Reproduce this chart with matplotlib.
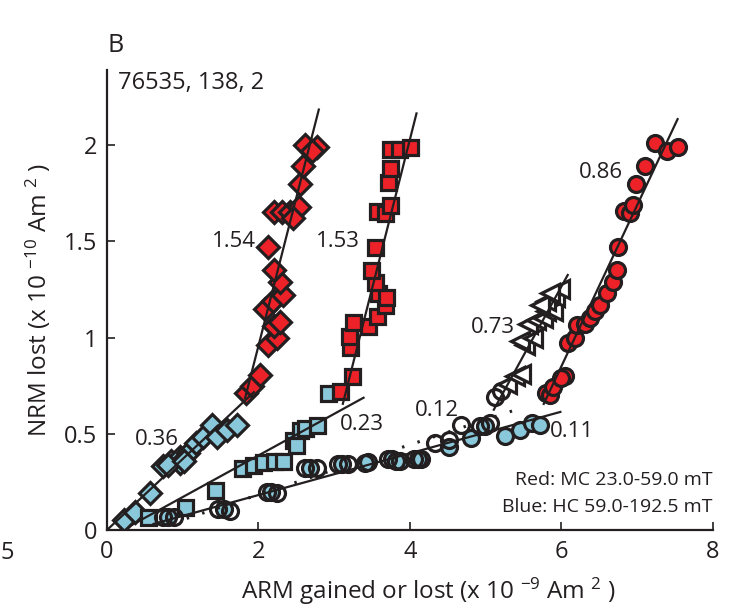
import matplotlib
matplotlib.use("Agg")
import matplotlib.pyplot as plt

plt.rcParams['font.family'] = ['Open Sans', 'DejaVu Sans']
plt.rcParams['mathtext.default'] = 'regular'

RED = '#ed2228'
BLUE = '#89c8da'
EDGE = '#231f20'

# ---------------- data ----------------
# Diamonds
dia_blue_x = [0.22, 0.37, 0.57, 0.74, 0.85, 0.96, 0.96, 1.07, 1.18, 1.27, 1.38, 1.45, 1.58, 1.71, 0.80, 1.02]
dia_blue_y = [0.05, 0.095, 0.19, 0.33, 0.36, 0.38, 0.35, 0.40, 0.45, 0.485, 0.545, 0.485, 0.52, 0.545, 0.34, 0.36]
dia_red_x = [1.84, 1.91, 2.02, 2.13, 2.24, 2.20, 2.28, 2.09, 2.19, 2.33, 2.28, 2.20, 2.13,
             2.20, 2.31, 2.42, 2.53, 2.46, 2.55, 2.59, 2.61, 2.77, 2.70]
dia_red_y = [0.71, 0.75, 0.805, 0.96, 1.00, 1.06, 1.08, 1.15, 1.19, 1.22, 1.29, 1.35, 1.47,
             1.65, 1.65, 1.65, 1.68, 1.62, 1.80, 1.89, 2.00, 1.99, 1.97]
# Squares
sq_blue_x = [0.545, 1.03, 1.43, 1.78, 1.93, 2.06, 2.20, 2.33, 2.46, 2.55, 2.61, 2.77, 2.50, 2.92]
sq_blue_y = [0.07, 0.12, 0.21, 0.32, 0.34, 0.355, 0.36, 0.36, 0.47, 0.52, 0.53, 0.545, 0.44, 0.71]
sq_red_x = [3.08, 3.23, 3.21, 3.19, 3.25, 3.45, 3.56, 3.67, 3.58, 3.69, 3.54, 3.49, 3.54,
            3.56, 3.67, 3.74, 3.71, 3.74, 3.74, 3.85, 4.00]
sq_red_y = [0.72, 0.80, 0.95, 1.01, 1.08, 1.06, 1.11, 1.17, 1.23, 1.21, 1.29, 1.35, 1.47,
            1.66, 1.645, 1.69, 1.81, 1.88, 1.98, 1.98, 1.99]
# Filled circles
cir_blue_x = [0.81, 1.54, 2.17, 2.68, 3.10, 3.45, 3.76, 3.87, 4.11, 4.51, 4.81, 4.99, 5.25, 5.45, 5.61, 5.72]
cir_blue_y = [0.07, 0.11, 0.20, 0.32, 0.345, 0.355, 0.37, 0.36, 0.37, 0.43, 0.476, 0.54, 0.49, 0.52, 0.554, 0.545]
cir_red_x = [5.80, 5.85, 5.89, 6.05, 6.00, 6.09, 6.18, 6.20, 6.31, 6.38, 6.44, 6.51, 6.60, 6.68, 6.73,
             6.75, 6.82, 6.90, 6.94, 6.99, 7.10, 7.23, 7.39, 7.54]
cir_red_y = [0.71, 0.70, 0.745, 0.80, 0.79, 0.97, 1.00, 1.065, 1.07, 1.10, 1.14, 1.17, 1.23, 1.29, 1.35,
             1.47, 1.66, 1.645, 1.69, 1.80, 1.89, 2.01, 1.97, 1.99]
# Open circles and open triangles
open_cir_x = [0.74, 0.88, 1.47, 1.62, 2.11, 2.24, 2.61, 2.77, 3.05, 3.18, 3.40, 3.71, 3.82, 4.05,
              4.15, 4.33, 4.51, 4.68, 4.92, 5.06, 5.12, 5.20]
open_cir_y = [0.07, 0.065, 0.11, 0.10, 0.20, 0.19, 0.32, 0.32, 0.345, 0.345, 0.35, 0.37, 0.36, 0.37,
              0.37, 0.45, 0.47, 0.545, 0.54, 0.554, 0.69, 0.72]
tri_x = [5.28, 5.39, 5.47, 5.52, 5.45, 5.63, 5.56, 5.67, 5.76, 5.80, 5.89, 5.80, 5.91, 5.98, 5.72, 5.85]
tri_y = [0.76, 0.80, 0.81, 0.96, 0.98, 1.00, 1.07, 1.09, 1.10, 1.14, 1.14, 1.19, 1.21, 1.25, 1.17, 1.23]

# fit lines
fit_dia_blue = ([0.0, 1.95], [0.0, 0.72])
fit_dia_red = ([1.82, 2.80], [0.68, 2.19])
fit_sq_blue = ([0.30, 3.40], [0.02, 0.69])
fit_sq_red = ([3.11, 4.09], [0.65, 2.17])
fit_cir_blue = ([0.60, 6.00], [0.03, 0.615])
fit_cir_red = ([5.76, 7.54], [0.65, 2.14])
fit_open = ([0.85, 5.40], [0.034, 0.625])
fit_tri = ([5.10, 6.09], [0.62, 1.33])

slope_labels = ['0.36', '1.54', '0.23', '1.53', '0.11', '0.86', '0.12', '0.73']
slope_pos = [(0.66, 0.47), (1.67, 1.50), (3.36, 0.55), (3.05, 1.50),
             (6.14, 0.51), (6.52, 1.86), (4.36, 0.62), (5.10, 1.05)]

# ---------------- figure ----------------
fig = plt.figure(figsize=(7.38, 6.13), dpi=100)
ax = fig.add_axes([0.145, 0.1354, 0.821, 0.7504])

mk = dict(linestyle='none', markeredgecolor=EDGE, markeredgewidth=2.3)
ax.plot(dia_blue_x, dia_blue_y, marker='D', markersize=11.5, markerfacecolor=BLUE, **mk)
ax.plot(dia_red_x, dia_red_y, marker='D', markersize=11.5, markerfacecolor=RED, **mk)
ax.plot(sq_blue_x, sq_blue_y, marker='s', markersize=10.8, markerfacecolor=BLUE, **mk)
ax.plot(sq_red_x, sq_red_y, marker='s', markersize=10.8, markerfacecolor=RED, **mk)
ax.plot(cir_blue_x, cir_blue_y, marker='o', markersize=11.5, markerfacecolor=BLUE, **mk)
ax.plot(cir_red_x, cir_red_y, marker='o', markersize=11.5, markerfacecolor=RED, **mk)
ax.plot(open_cir_x, open_cir_y, marker='o', markersize=11.5, markerfacecolor='none', **mk)
ax.plot(tri_x, tri_y, marker='<', markersize=12.5, markerfacecolor='white', **mk)

for fx, fy in [fit_dia_blue, fit_dia_red, fit_sq_blue, fit_sq_red, fit_cir_blue, fit_cir_red, fit_tri]:
    ax.plot(fx, fy, color=EDGE, lw=1.6, solid_capstyle='butt', zorder=5)
ax.plot(fit_open[0], fit_open[1], color=EDGE, lw=2.2, linestyle=(0, (0.8, 4.5)), zorder=5)

for lab, (x, y) in zip(slope_labels, slope_pos):
    ax.text(x, y, lab, fontsize=16, color=EDGE, ha='center', va='center', zorder=6)

ax.text(0.14, 2.32, '76535, 138, 2', fontsize=17, color=EDGE, ha='left', va='center')
ax.text(7.99, 0.26, 'Red: MC 23.0-59.0 mT', fontsize=14, color=EDGE, ha='right', va='center')
ax.text(7.99, 0.12, 'Blue: HC 59.0-192.5 mT', fontsize=14, color=EDGE, ha='right', va='center')

ax.set_xlim(0, 8)
ax.set_ylim(0, 2.39)
ax.set_xticks([0, 2, 4, 6, 8])
ax.set_xticklabels(['0', '2', '4', '6', '8'])
ax.set_yticks([0, 0.5, 1, 1.5, 2])
ax.set_yticklabels(['0', '0.5', '1', '1.5', '2'])
ax.tick_params(direction='in', length=6, width=1.2, labelsize=17, colors=EDGE, pad=7)
for s in ['top', 'right']:
    ax.spines[s].set_visible(False)
for s in ['left', 'bottom']:
    ax.spines[s].set_linewidth(1.6)
    ax.spines[s].set_color(EDGE)

ax.set_xlabel('ARM gained or lost (x 10 $^{-9}$ Am $^{2}$ )', fontsize=17.5, color=EDGE)
ax.xaxis.set_label_coords(0.53, -0.10)
ax.set_ylabel('NRM lost (x 10 $^{-10}$ Am $^{2}$ )', fontsize=17.5, color=EDGE, labelpad=8)

fig.text(108 / 738, 1 - 45 / 613, 'B', fontsize=18, color=EDGE, ha='left', va='center')
fig.text(1 / 738, 1 - 553 / 613, '5', fontsize=17, color=EDGE, ha='left', va='center')

fig.savefig('out.png', dpi=100)
